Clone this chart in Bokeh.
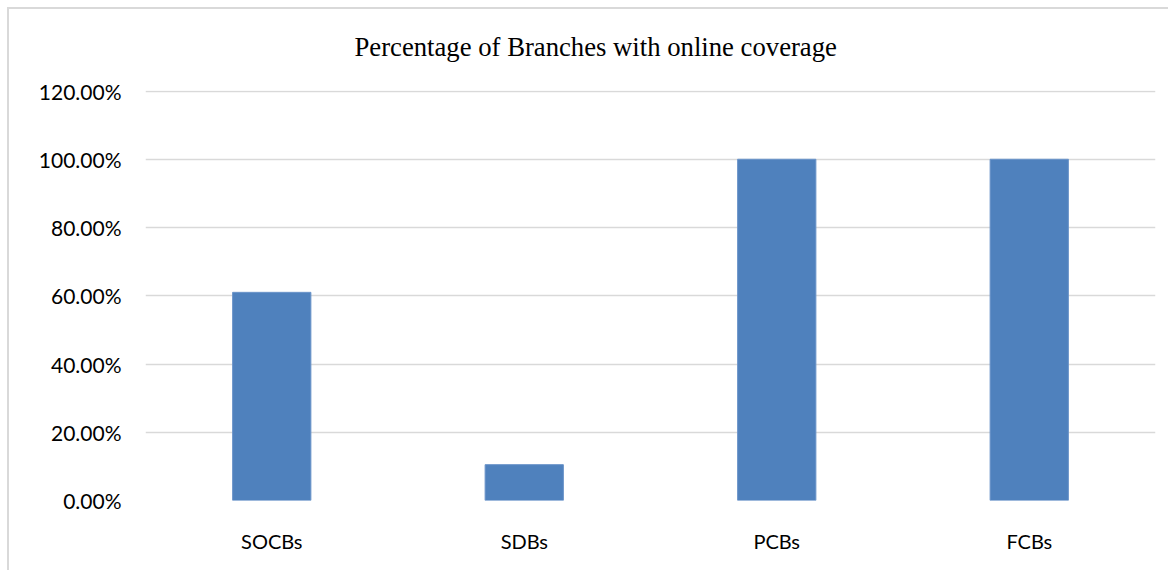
from bokeh.plotting import figure
from bokeh.models import FactorRange, Range1d, FixedTicker, NumeralTickFormatter
from bokeh.embed import file_html
from bokeh.resources import INLINE

categories = ["SOCBs", "SDBs", "PCBs", "FCBs"]
values = [0.61, 0.105, 1.0, 1.0]
y_ticks = [0.0, 0.2, 0.4, 0.6, 0.8, 1.0, 1.2]

p = figure(
    x_range=FactorRange(*categories),
    y_range=Range1d(0, 1.2015),
    width=1168, height=570,
    output_backend="svg", toolbar_location=None,
    title="Percentage of Branches with online coverage",
    min_border_left=145, min_border_right=13,
    min_border_top=90, min_border_bottom=70,
)
p.border_fill_color = None
p.background_fill_color = "white"
p.styles = {
    "background": "linear-gradient(#d9d9d9,#d9d9d9) 7px 7px / 2px 100% no-repeat, "
                  "linear-gradient(#d9d9d9,#d9d9d9) 7px 7px / 100% 2px no-repeat, white"
}
p.outline_line_color = None

p.vbar(x=categories, top=values, width=0.31, fill_color="#4F81BD", line_color="#6a94c9", line_width=1)

p.title.text_font = "Liberation Serif"
p.title.text_font_size = "26.7px"
p.title.text_font_style = "normal"
p.title.text_color = "#000000"
p.title.align = "left"
p.title.offset = 209
p.title.standoff = 57

p.yaxis.ticker = FixedTicker(ticks=y_ticks)
p.yaxis.formatter = NumeralTickFormatter(format="0.00%")
p.yaxis.axis_line_color = None
p.yaxis.major_tick_line_color = None
p.yaxis.minor_tick_line_color = None
p.yaxis.major_label_standoff = 18
p.yaxis.major_label_text_font = "Lato"
p.yaxis.major_label_text_font_size = "21px"
p.yaxis.major_label_text_color = "#000000"

p.xaxis.axis_line_color = None
p.xaxis.major_tick_line_color = None
p.xaxis.minor_tick_line_color = None
p.xaxis.major_label_standoff = 22
p.xaxis.major_label_text_font = "Lato"
p.xaxis.major_label_text_font_size = "20px"
p.xaxis.major_label_text_color = "#000000"

p.xgrid.grid_line_color = None
p.ygrid.grid_line_color = "#d9d9d9"
p.ygrid.grid_line_width = 1.5

open("out.html", "w").write(file_html(p, INLINE))
